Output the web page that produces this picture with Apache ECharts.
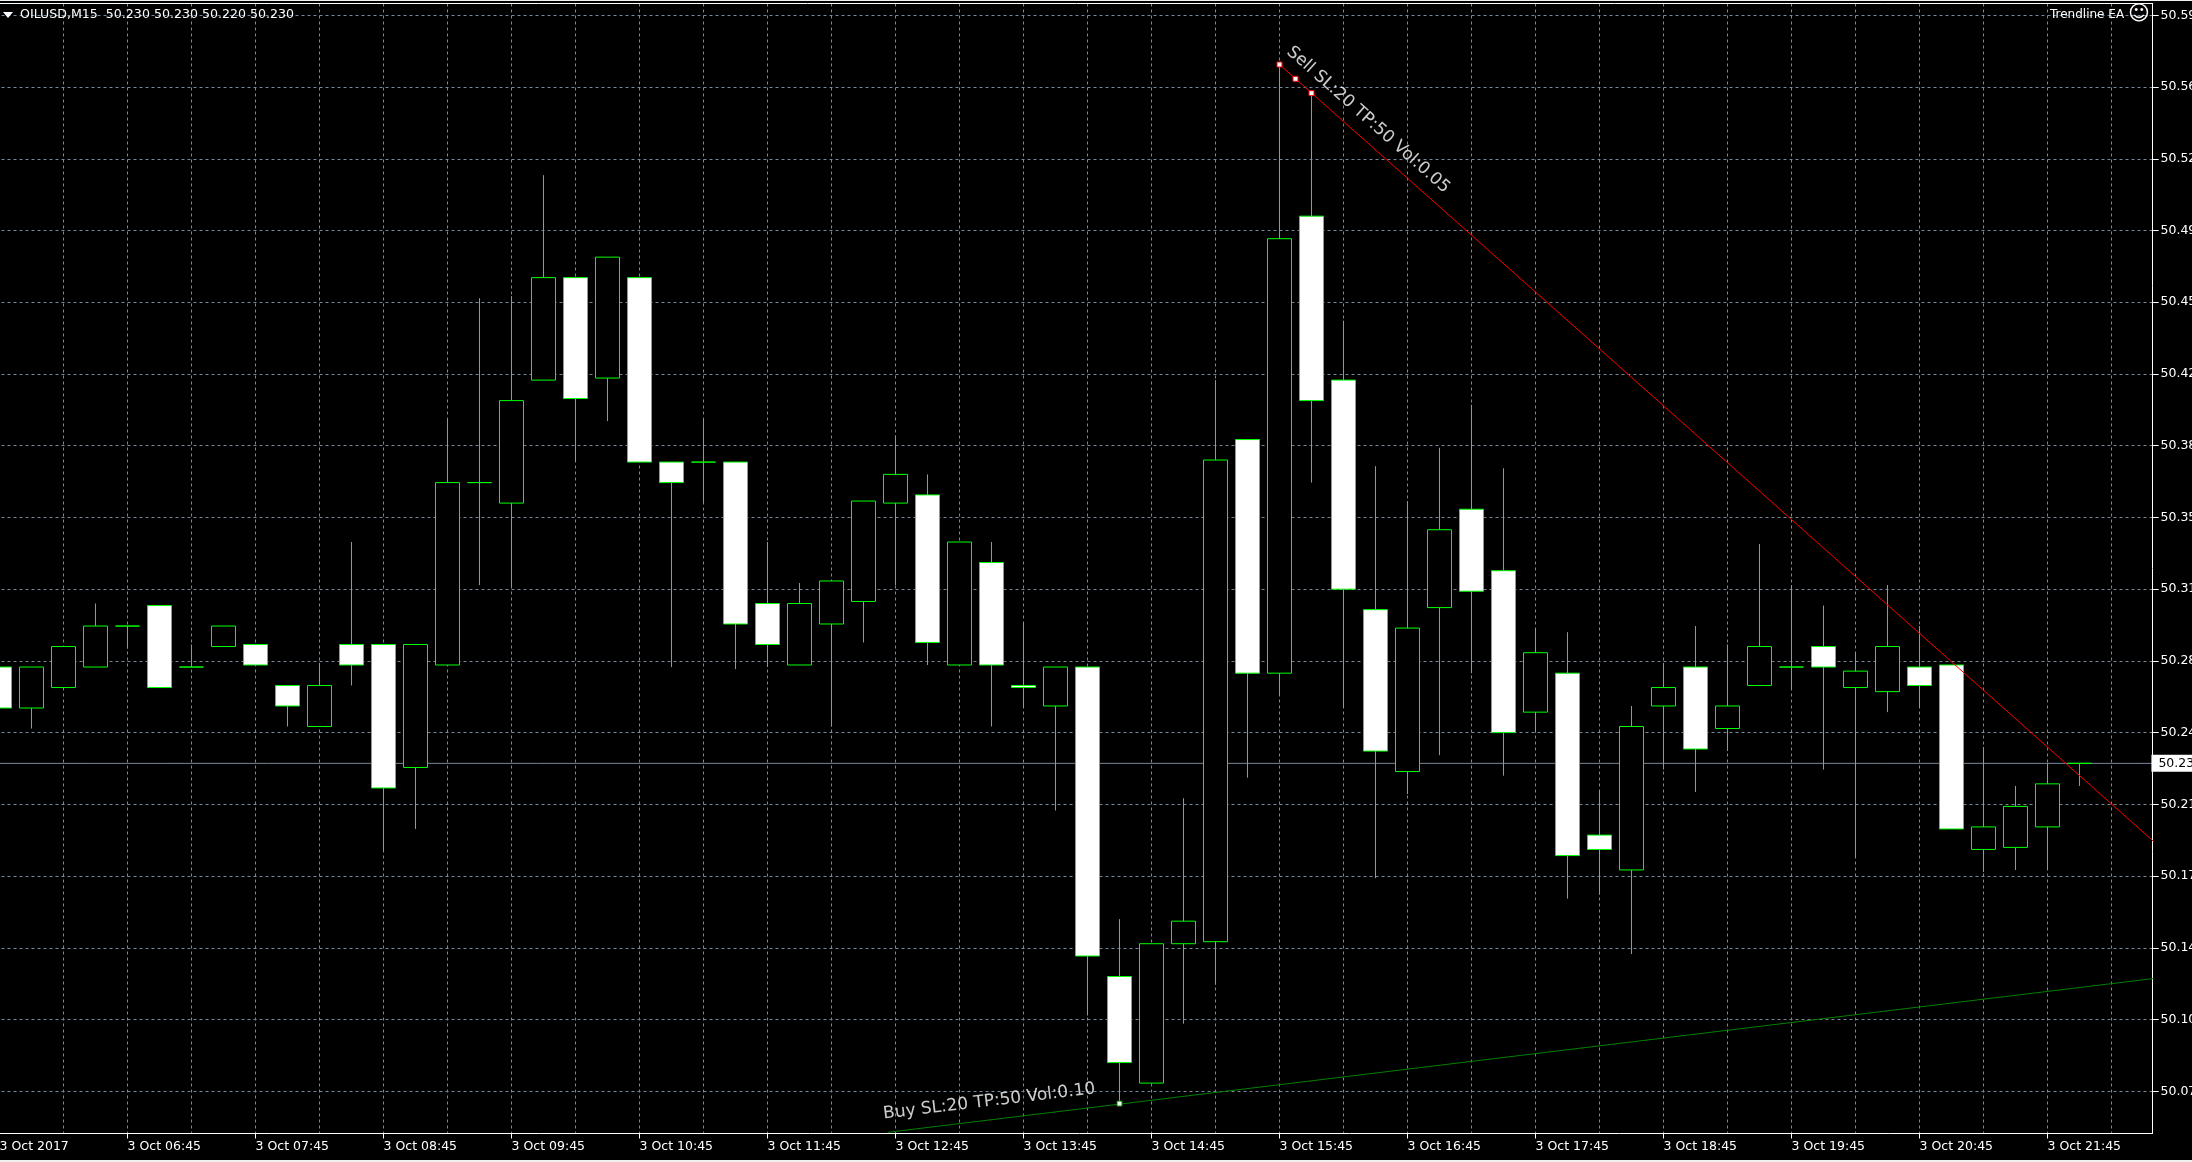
<!DOCTYPE html>
<html><head><meta charset="utf-8">
<style>html,body{margin:0;padding:0;background:#000;overflow:hidden}#c{width:2192px;height:1162px}</style>
<script src="https://cdn.jsdelivr.net/npm/echarts@6/dist/echarts.min.js"></script>
</head><body><div id="c"></div>
<script>
const categories = ["3 Oct 2017","3 Oct 06:00","3 Oct 06:15","3 Oct 06:30","3 Oct 06:45","3 Oct 07:00","3 Oct 07:15","3 Oct 07:30","3 Oct 07:45","3 Oct 08:00","3 Oct 08:15","3 Oct 08:30","3 Oct 08:45","3 Oct 09:00","3 Oct 09:15","3 Oct 09:30","3 Oct 09:45","3 Oct 10:00","3 Oct 10:15","3 Oct 10:30","3 Oct 10:45","3 Oct 11:00","3 Oct 11:15","3 Oct 11:30","3 Oct 11:45","3 Oct 12:00","3 Oct 12:15","3 Oct 12:30","3 Oct 12:45","3 Oct 13:00","3 Oct 13:15","3 Oct 13:30","3 Oct 13:45","3 Oct 14:00","3 Oct 14:15","3 Oct 14:30","3 Oct 14:45","3 Oct 15:00","3 Oct 15:15","3 Oct 15:30","3 Oct 15:45","3 Oct 16:00","3 Oct 16:15","3 Oct 16:30","3 Oct 16:45","3 Oct 17:00","3 Oct 17:15","3 Oct 17:30","3 Oct 17:45","3 Oct 18:00","3 Oct 18:15","3 Oct 18:30","3 Oct 18:45","3 Oct 19:00","3 Oct 19:15","3 Oct 19:30","3 Oct 19:45","3 Oct 20:00","3 Oct 20:15","3 Oct 20:30","3 Oct 20:45","3 Oct 21:00","3 Oct 21:15","3 Oct 21:30","3 Oct 21:45","3 Oct 22:00","3 Oct 22:15","3 Oct 22:30"];
const opens = [50.277,50.257,50.267,50.277,50.297,50.307,50.277,50.287,50.288,50.268,50.248,50.288,50.288,50.228,50.278,50.367,50.357,50.417,50.467,50.418,50.467,50.377,50.377,50.377,50.308,50.278,50.298,50.309,50.357,50.361,50.278,50.328,50.268,50.258,50.277,50.126,50.074,50.142,50.143,50.388,50.274,50.497,50.417,50.305,50.226,50.306,50.354,50.324,50.255,50.274,50.195,50.178,50.258,50.277,50.247,50.268,50.277,50.287,50.267,50.265,50.277,50.278,50.188,50.189,50.199,50.230];
const closes = [50.257,50.277,50.287,50.297,50.297,50.267,50.277,50.297,50.278,50.258,50.268,50.278,50.218,50.288,50.367,50.367,50.407,50.467,50.408,50.477,50.377,50.367,50.377,50.298,50.288,50.308,50.319,50.358,50.371,50.289,50.338,50.278,50.267,50.277,50.136,50.084,50.142,50.153,50.378,50.274,50.486,50.407,50.315,50.236,50.296,50.344,50.314,50.245,50.284,50.185,50.188,50.248,50.267,50.237,50.258,50.287,50.277,50.277,50.275,50.287,50.268,50.198,50.199,50.209,50.220,50.230];
const lows = [50.257,50.247,50.267,50.277,50.286,50.267,50.277,50.287,50.278,50.248,50.248,50.268,50.187,50.198,50.278,50.317,50.316,50.417,50.377,50.397,50.377,50.277,50.357,50.276,50.277,50.278,50.248,50.289,50.317,50.278,50.278,50.248,50.257,50.207,50.107,50.064,50.074,50.103,50.122,50.223,50.263,50.367,50.257,50.174,50.215,50.234,50.274,50.224,50.245,50.164,50.166,50.137,50.227,50.216,50.236,50.268,50.266,50.227,50.184,50.255,50.257,50.198,50.177,50.178,50.178,50.219];
const highs = [50.277,50.277,50.287,50.308,50.297,50.307,50.288,50.297,50.288,50.268,50.279,50.338,50.288,50.288,50.398,50.457,50.458,50.517,50.467,50.477,50.467,50.377,50.398,50.377,50.338,50.318,50.319,50.358,50.390,50.371,50.338,50.338,50.299,50.277,50.277,50.154,50.142,50.213,50.417,50.388,50.571,50.557,50.446,50.375,50.358,50.384,50.405,50.374,50.296,50.294,50.217,50.258,50.279,50.297,50.288,50.337,50.317,50.307,50.284,50.317,50.297,50.278,50.238,50.219,50.230,50.230];
const tickValues = [50.07,50.105,50.14,50.175,50.21,50.245,50.28,50.315,50.35,50.385,50.42,50.455,50.49,50.525,50.56,50.595];
const tickLabels = ["50.07","50.10","50.14","50.17","50.21","50.24","50.28","50.31","50.35","50.38","50.42","50.45","50.49","50.52","50.56","50.59"];
const bidPrice = 50.23, bidLabel = "50.23";
const bidLine = [[-0.5,50.23],[67.31,50.23]];
const sellLine = [[40,50.571],[67.31,50.192]];
const sellHandles = [[40,50.571],[40.5,50.564],[41,50.557]];
const buyLine = [[27.77,50.05],[67.31,50.125]];
const buyHandles = [[35,50.064]];
const sellText = "Sell SL:20 TP:50 Vol:0.05", sellTextAt = [42.77,50.544];
const buyText = "Buy SL:20 TP:50 Vol:0.10", buyTextAt = [30.93,50.065];
const headerText = "OILUSD,M15  50.230 50.230 50.220 50.230";
const eaText = "Trendline EA";

const FONT = '"DejaVu Sans"', GRID = '#778899', GREEN = '#00ff00';
const ohlc = opens.map((o,i)=>[o,closes[i],lows[i],highs[i]]);
const chart = echarts.init(document.getElementById('c'),null,{renderer:'canvas',width:2192,height:1162});
const handleStyle = c => ({color:'#fff',borderColor:c,borderWidth:1,opacity:1});
const textSeries = (pt,txt,rot,size)=>({type:'scatter',xAxisIndex:1,yAxisIndex:0,z:7,silent:true,symbolSize:1,itemStyle:{color:'rgba(0,0,0,0)'},
  data:[{value:pt,label:{show:true,position:'inside',formatter:txt,rotate:rot,color:'#fff',fontFamily:FONT,fontSize:size}}]});
chart.setOption({
  animation:false,backgroundColor:'#000',
  title:[
    {text:headerText,left:20,top:8,padding:0,textStyle:{color:'#fff',fontFamily:FONT,fontSize:12.6,fontWeight:'normal',lineHeight:14}},
    {text:eaText+' {s|☺}',left:2050,top:7,padding:0,textStyle:{color:'#fff',fontFamily:FONT,fontSize:12,fontWeight:'normal',lineHeight:16,rich:{s:{fontSize:21,color:'#fff',fontFamily:FONT,lineHeight:16}}}}
  ],
  grid:{left:-16.5,top:3.5,width:2176,height:1130,containLabel:false,outerBoundsMode:'none'},
  xAxis:[
   {type:'category',data:categories,boundaryGap:true,position:'bottom',
    axisLine:{show:true,onZero:false,lineStyle:{color:'#fff',width:1}},
    axisTick:{show:true,alignWithLabel:true,interval:3,length:5,lineStyle:{color:'#fff'}},
    axisLabel:{show:true,interval:3,align:'left',margin:7,color:'#fff',fontFamily:FONT,fontSize:12.5,hideOverlap:false},
    splitLine:{show:true,interval:1,alignWithLabel:true,lineStyle:{color:GRID,width:1,type:[3,3]}}},
   {type:'value',min:-0.5,max:67.5,show:false,splitLine:{show:false}}
  ],
  yAxis:{type:'value',position:'right',offset:-7,min:50.0494,max:50.60076,scale:true,
    axisLine:{show:true,onZero:false,lineStyle:{color:'#fff',width:1}},
    axisTick:{show:true,length:6,customValues:tickValues,lineStyle:{color:'#fff'}},
    axisLabel:{show:true,margin:8,customValues:tickValues,color:'#fff',fontFamily:FONT,fontSize:12.5,showMinLabel:true,showMaxLabel:true,
      formatter:v=>{const k=tickValues.findIndex(t=>Math.abs(t-v)<1e-6);return k>=0?tickLabels[k]:'';}},
    splitLine:{show:true,customValues:tickValues,lineStyle:{color:GRID,width:1,type:[3,3]}}},
  series:[
    {type:'line',name:'bid',xAxisIndex:1,yAxisIndex:0,z:1,silent:true,showSymbol:false,data:bidLine,lineStyle:{color:GRID,width:1},
     endLabel:{show:true,formatter:bidLabel,distance:-2,color:'#000',backgroundColor:'#fff',fontFamily:FONT,fontSize:12.5,padding:[2,6,2,7]}},
    {type:'candlestick',data:ohlc,z:3,barWidth:24,silent:true,clip:false,
     itemStyle:{color:'#000',color0:'#fff',borderColor:GREEN,borderColor0:GREEN,borderColorDoji:GREEN,borderWidth:1}},
    {type:'line',name:'sell',xAxisIndex:1,yAxisIndex:0,z:5,silent:true,showSymbol:false,data:sellLine,lineStyle:{color:'#ff0000',width:1}},
    {type:'line',name:'buy',xAxisIndex:1,yAxisIndex:0,z:5,silent:true,showSymbol:false,data:buyLine,lineStyle:{color:'#008000',width:1}},
    {type:'scatter',xAxisIndex:1,yAxisIndex:0,z:6,silent:true,symbol:'rect',symbolSize:5,data:sellHandles,itemStyle:handleStyle('#ff0000')},
    {type:'scatter',xAxisIndex:1,yAxisIndex:0,z:6,silent:true,symbol:'rect',symbolSize:5,data:buyHandles,itemStyle:handleStyle('#008000')},
    textSeries(sellTextAt,sellText,-41.6,17),
    textSeries(buyTextAt,buyText,6.8,17)
  ],
  graphic:[
    {type:'rect',silent:true,z:100,shape:{x:2153,y:1131,width:8,height:6},style:{fill:'#000'}},
    {type:'line',silent:true,z:100,shape:{x1:0,y1:3.5,x2:2153,y2:3.5},style:{stroke:'#fff',lineWidth:1}},
    {type:'rect',silent:true,z:100,shape:{x:0,y:0,width:2192,height:1},style:{fill:'#f0f0f0'}},
    {type:'rect',silent:true,z:100,shape:{x:0,y:1160,width:2192,height:2},style:{fill:'#f0f0f0'}},
    {type:'polygon',silent:true,z:100,shape:{points:[[3,12],[13,12],[8,18]]},style:{fill:'#fff'}}
  ]
});
</script></body></html>
